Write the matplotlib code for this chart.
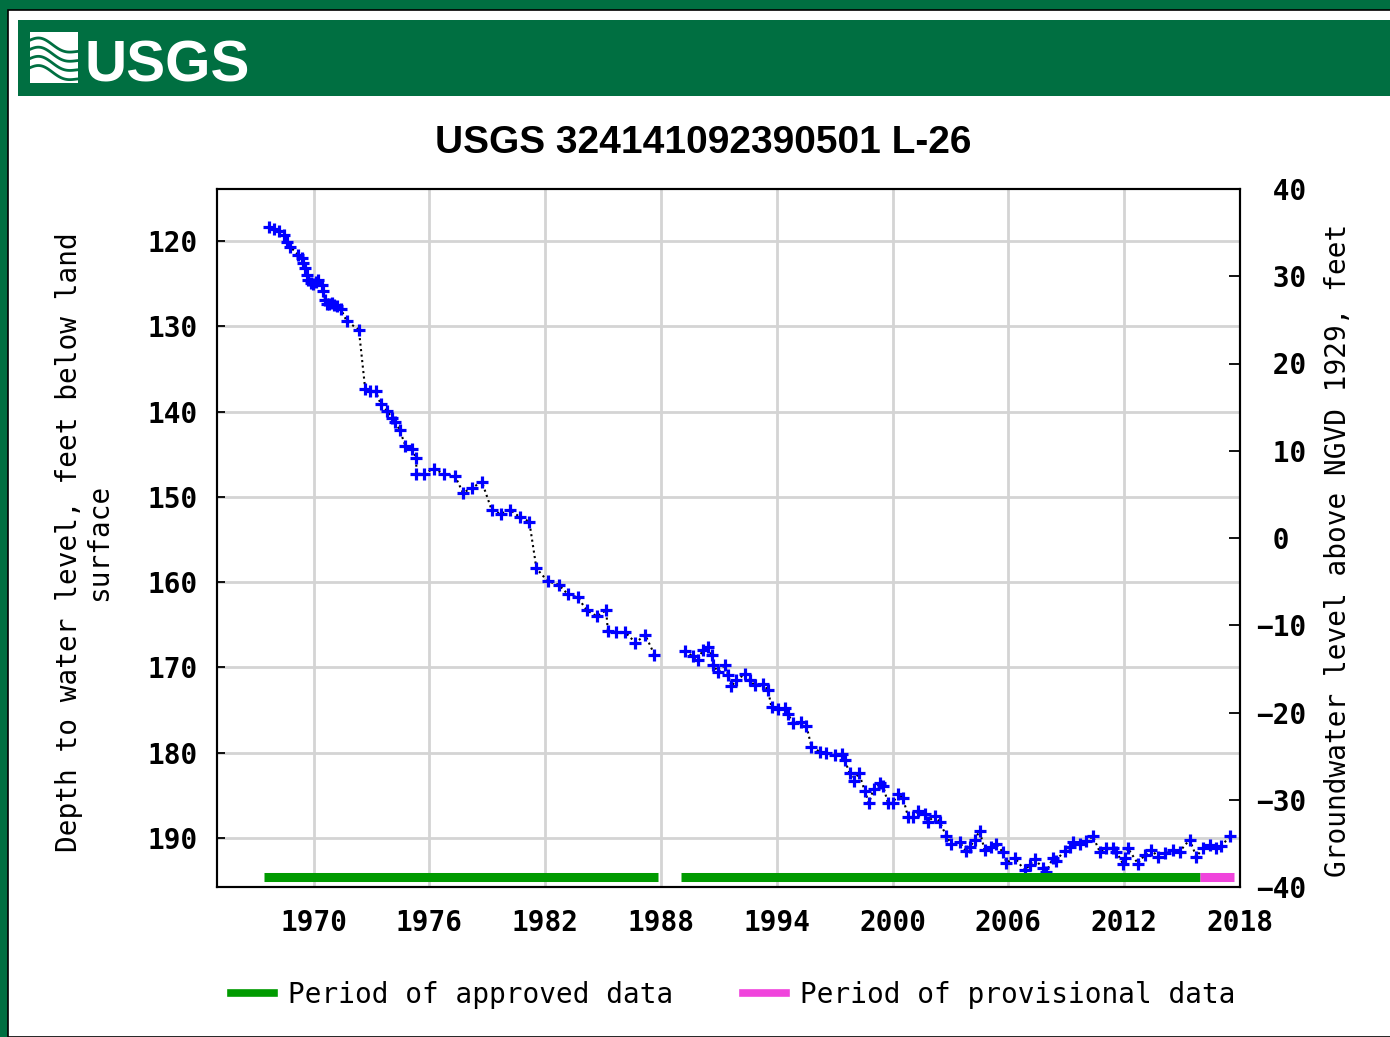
import numpy as np
import matplotlib
matplotlib.use('Agg')
import matplotlib.pyplot as plt
import matplotlib.transforms as mtransforms
from matplotlib.patches import Rectangle
from matplotlib.lines import Line2D

# --- data (decimal year, depth in feet below land surface)
title = 'USGS 324141092390501 L-26'

yr_a = [1967.70, 1967.95, 1968.20, 1968.45, 1968.62, 1968.80, 1969.20, 1969.38,
        1969.47, 1969.56, 1969.65, 1969.73, 1969.85, 1969.99, 1970.12, 1970.25,
        1970.42, 1970.51, 1970.60, 1970.68, 1970.80, 1970.94, 1971.07, 1971.20,
        1971.42, 1971.72, 1972.35, 1972.68, 1972.94, 1973.22, 1973.48, 1973.80,
        1974.06, 1974.24, 1974.47, 1974.76, 1975.10, 1975.32, 1975.33, 1975.70,
        1976.22, 1976.74, 1977.34, 1977.74, 1978.20, 1978.72, 1979.24, 1979.70,
        1980.18, 1980.70, 1981.18, 1981.55, 1982.14, 1982.70, 1983.17, 1983.69,
        1984.16, 1984.68, 1985.16, 1985.25, 1985.68, 1986.16, 1986.68, 1987.19,
        1987.66]
dep_a = [118.4, 118.6, 118.8, 119.3, 120.1, 120.7, 121.6, 122.0,
         122.6, 123.2, 124.0, 124.6, 124.9, 125.0, 124.8, 124.6,
         125.2, 125.9, 126.9, 127.4, 127.4, 127.3, 127.5, 127.6,
         128.0, 129.4, 130.4, 137.4, 137.6, 137.6, 139.1, 139.9,
         140.7, 141.2, 142.2, 144.0, 144.4, 145.4, 147.3, 147.3,
         146.7, 147.3, 147.6, 149.5, 149.0, 148.2, 151.6, 152.0,
         151.5, 152.4, 152.9, 158.4, 159.9, 160.3, 161.4, 161.8,
         163.3, 164.0, 163.3, 165.7, 165.9, 165.9, 167.1, 166.2,
         168.5]

yr_b = [1989.24, 1989.67, 1989.93, 1990.18, 1990.44, 1990.62, 1990.70, 1990.96,
        1991.31, 1991.48, 1991.65, 1991.91, 1992.34, 1992.60, 1992.86, 1993.29,
        1993.55, 1993.73, 1994.07, 1994.41, 1994.59, 1994.84, 1995.28, 1995.54,
        1995.80, 1996.23, 1996.57, 1997.00, 1997.40, 1997.52, 1997.78, 1997.99,
        1998.26, 1998.56, 1998.78, 1999.02, 1999.34, 1999.51, 1999.76, 2000.02,
        2000.28, 2000.54, 2000.80, 2001.06, 2001.32, 2001.67, 2001.84, 2002.18,
        2002.44, 2002.79, 2003.05, 2003.48, 2003.79, 2004.00, 2004.25, 2004.51,
        2004.77, 2005.12, 2005.38, 2005.72, 2005.90, 2006.33, 2006.84, 2007.10,
        2007.36, 2007.79, 2007.97, 2008.31, 2008.45, 2008.91, 2009.17, 2009.35,
        2009.69, 2010.04, 2010.38, 2010.73, 2011.07, 2011.42, 2011.59, 2011.93,
        2012.02, 2012.19, 2012.71, 2013.06, 2013.41, 2013.75, 2014.09, 2014.52,
        2014.87, 2015.39, 2015.74, 2016.08, 2016.42, 2016.77, 2017.03, 2017.46]
dep_b = [168.1, 168.7, 169.1, 167.9, 167.6, 168.5, 169.7, 170.5,
         169.7, 170.9, 172.2, 171.5, 170.8, 171.5, 172.1, 171.9,
         172.7, 174.7, 174.9, 174.8, 175.5, 176.5, 176.4, 176.9,
         179.3, 179.9, 180.0, 180.3, 180.2, 180.9, 182.4, 183.3,
         182.4, 184.5, 185.9, 184.2, 183.6, 183.9, 185.9, 185.9,
         184.8, 185.3, 187.5, 187.6, 186.8, 187.2, 188.1, 187.4,
         188.1, 189.8, 190.7, 190.5, 191.5, 191.1, 190.2, 189.2,
         191.4, 191.1, 190.7, 191.7, 192.9, 192.3, 193.8, 193.2,
         192.5, 193.5, 194.0, 192.3, 192.7, 191.5, 191.1, 190.5,
         190.7, 190.4, 189.8, 191.6, 191.2, 191.2, 191.6, 193.0,
         192.4, 191.2, 193.0, 192.0, 191.4, 192.2, 191.8, 191.4,
         191.6, 190.2, 192.2, 191.2, 190.8, 191.2, 191.0, 189.8]

approved = [(1967.43, 1987.84), (1989.03, 2015.91)]
provisional = [(2015.91, 2017.67)]

year_ticks = list(range(1970, 2019, 6))
depth_ticks = list(range(120, 191, 10))
elev_ticks = list(range(-40, 41, 10))

GREEN = '#006F41'
W, H = 1390, 1037
mono = ['DejaVu Sans Mono']
sans = ['Liberation Sans', 'DejaVu Sans']

def fx(px):
    return px / W

def fy(py):
    return 1 - py / H

fig = plt.figure(figsize=(W / 100, H / 100), dpi=100)
fig.patch.set_facecolor(GREEN)

# page frame and header band
fig.add_artist(Rectangle((fx(8), 0), 1, fy(10), transform=fig.transFigure,
                         facecolor='white', edgecolor='black', lw=1.2, zorder=0))
fig.add_artist(Rectangle((fx(18), fy(96)), 1, 76 / H, transform=fig.transFigure,
                         facecolor=GREEN, edgecolor='none', zorder=1))

# logo mark
lax = fig.add_axes([fx(30), fy(83), 48 / W, 51 / H])
lax.set_zorder(3)
lax.add_patch(Rectangle((0, 0), 1, 1, facecolor='white', edgecolor='none'))
t = np.linspace(0, 1, 60)
for c in [0.30, 0.48, 0.66, 0.84]:
    lax.plot(t, c + 0.10 * np.sin(2 * np.pi * t) * (1 - 0.5 * t) - 0.22 * t,
             color=GREEN, lw=2.0)
lax.set_xlim(0, 1)
lax.set_ylim(0, 1)
lax.axis('off')

fig.text(fx(84), fy(82), 'USGS', color='white', fontsize=42, fontweight='bold',
         family=sans, ha='left', va='baseline', zorder=4)

fig.text(fx(703), fy(153), title, ha='center', va='baseline', fontsize=28,
         fontweight='bold', family=sans)

# main axes
ax = fig.add_axes([fx(217), fy(887), (1240 - 217) / W, (887 - 189) / H])
ax.set_xlim(1965, 2018)
ax.set_ylim(195.75, 113.9)
ax.set_xticks(year_ticks)
ax.set_yticks(depth_ticks)
ax.grid(True, color='#d4d4d4', lw=2)
ax.set_axisbelow(True)
ax.tick_params(axis='x', length=0, pad=16, labelsize=20)
ax.tick_params(axis='y', direction='in', length=6, width=1.3, pad=14, labelsize=20)
for s in ax.spines.values():
    s.set_linewidth(1.5)

ax.plot(yr_a, dep_a, ls=':', color='black', lw=1.5, marker='+', ms=8,
        mew=2.3, mec='blue', zorder=3)
ax.plot(yr_b, dep_b, ls=':', color='black', lw=1.5, marker='+', ms=8,
        mew=2.3, mec='blue', zorder=3)

trans = mtransforms.blended_transform_factory(ax.transData, ax.transAxes)
for a, b in approved:
    ax.plot([a, b], [0.0143, 0.0143], transform=trans, color='#009a00', lw=6.5,
            solid_capstyle='butt', zorder=4)
for a, b in provisional:
    ax.plot([a, b], [0.0143, 0.0143], transform=trans, color='#f044dc', lw=6.5,
            solid_capstyle='butt', zorder=4)

ax2 = ax.twinx()
ax2.set_ylim(-40, 40)
ax2.set_yticks(elev_ticks)
ax2.set_yticklabels([f'{v: d}'.replace('-', '\u2212') for v in elev_ticks])
ax2.tick_params(axis='y', direction='in', length=8, width=1.3, pad=11.5, labelsize=20)
for s in ax2.spines.values():
    s.set_linewidth(1.5)

for lbl in ax.get_xticklabels() + ax.get_yticklabels() + ax2.get_yticklabels():
    lbl.set_family(mono)
    lbl.set_fontweight('bold')
for lbl in ax2.get_yticklabels():
    lbl.set_ha('left')

fig.text(fx(84), fy(542), 'Depth to water level, feet below land\nsurface',
         rotation=90, ha='center', va='center', multialignment='center',
         fontsize=20, family=mono, linespacing=1.1)
fig.text(fx(1338), fy(550), 'Groundwater level above NGVD 1929, feet',
         rotation=90, ha='center', va='center', fontsize=20, family=mono)

handles = [Line2D([], [], color='#009a00', lw=5.5),
           Line2D([], [], color='#f044dc', lw=5.5)]
fig.legend(handles, ['Period of approved data', 'Period of provisional data'],
           loc='center', bbox_to_anchor=(fx(733), fy(995)), ncol=2, frameon=False,
           handlelength=1.55, handletextpad=0.5, columnspacing=2.5,
           prop={'family': mono, 'size': 20})

fig.savefig('out.png', dpi=100, facecolor=fig.get_facecolor())
